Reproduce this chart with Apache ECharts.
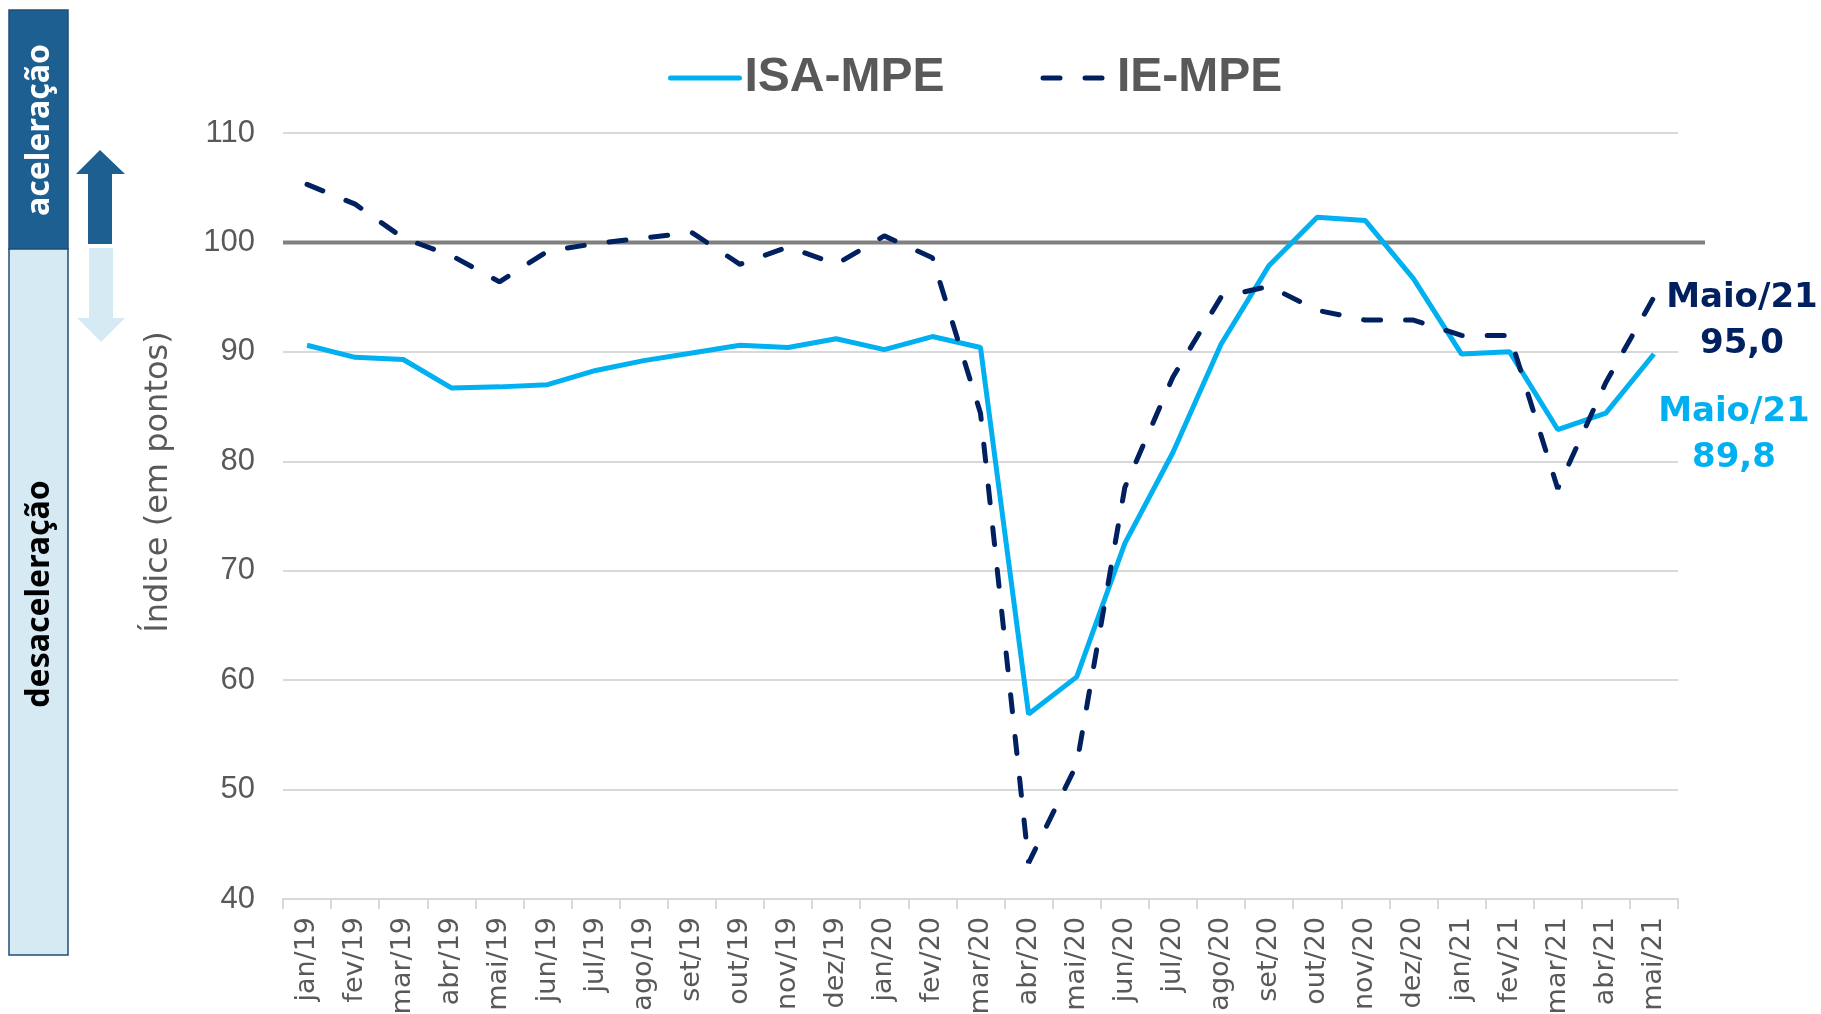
<!DOCTYPE html>
<html>

<head>
  <meta charset="utf-8" />
  <script src="https://cdn.jsdelivr.net/npm/echarts@6/dist/echarts.min.js"></script>
</head>

<body style="margin:0;background:#fff">
  <div id="main" style="width: 1821px;height:1014px;"></div>
  <script type="text/javascript">
    // dados
    var meses = ['jan/19', 'fev/19', 'mar/19', 'abr/19', 'mai/19', 'jun/19', 'jul/19', 'ago/19', 'set/19', 'out/19',
      'nov/19', 'dez/19', 'jan/20', 'fev/20', 'mar/20', 'abr/20', 'mai/20', 'jun/20', 'jul/20', 'ago/20',
      'set/20', 'out/20', 'nov/20', 'dez/20', 'jan/21', 'fev/21', 'mar/21', 'abr/21', 'mai/21']
    var isaMpe = [90.6, 89.5, 89.3, 86.7, 86.8, 87.0, 88.3, 89.2, 89.9, 90.6,
      90.4, 91.2, 90.2, 91.4, 90.4, 56.9, 60.3, 72.5, 80.8, 90.7,
      97.9, 102.3, 102.0, 96.7, 89.8, 90.0, 82.9, 84.4, 89.8]
    var ieMpe = [105.3, 103.5, 100.4, 98.8, 96.4, 99.2, 99.9, 100.4, 100.9, 98.0,
      99.6, 98.0, 100.6, 98.6, 84.4, 43.3, 52.3, 77.6, 87.7, 95.0,
      96.0, 93.8, 92.9, 92.9, 91.5, 91.5, 77.5, 87.2, 95.0]
    var yTicks = { min: 40, max: 110, step: 10 }
    var linhaBase = 100
    var rotuloFinal = 'Maio/21'

    var gridLeft = 283, gridRight = 143, gridTop = 133, gridBottom = 115
    var tracejado = [17, 25]

    var myChart = echarts.init(document.getElementById('main'));

    function fmt(v) {
      return v.toFixed(1).replace('.', ',')
    }

    function marcaFinal(valores, cor, offset) {
      var last = valores.length - 1
      return {
        symbol: 'circle',
        symbolSize: 0,
        itemStyle: { color: 'transparent' },
        data: [{ coord: [meses[last], valores[last]] }],
        label: {
          show: true,
          position: 'inside',
          offset: offset,
          align: 'center',
          verticalAlign: 'middle',
          formatter: function () { return rotuloFinal + '\n' + fmt(valores[last]) },
          color: cor,
          fontFamily: 'DejaVu Sans',
          fontWeight: 'bold',
          fontSize: 34,
          lineHeight: 46
        }
      }
    }

    var graphic = [
      { id: 'boxUp', type: 'rect', shape: { x: 9, y: 10, width: 59, height: 239 }, style: { fill: '#1d5f91', stroke: '#1f4e79', lineWidth: 1.5 } },
      { id: 'boxDown', type: 'rect', shape: { x: 9, y: 249, width: 59, height: 706 }, style: { fill: '#d5eaf3', stroke: '#1f4e79', lineWidth: 1.5 } },
      {
        id: 'txtUp', type: 'text', x: 40, y: 130, rotation: Math.PI / 2,
        style: { text: 'aceleração', fill: '#ffffff', font: 'bold 32px "Noto Sans"', align: 'center', verticalAlign: 'middle' }
      },
      {
        id: 'txtDown', type: 'text', x: 40, y: 594, rotation: Math.PI / 2,
        style: { text: 'desaceleração', fill: '#000000', font: 'bold 32px "Noto Sans"', align: 'center', verticalAlign: 'middle' }
      },
      {
        id: 'arrowUp', type: 'polygon',
        shape: { points: [[100, 150], [125, 174], [112, 174], [112, 244], [88, 244], [88, 174], [76, 174]] },
        style: { fill: '#1d5f91' }
      },
      {
        id: 'arrowDown', type: 'polygon',
        shape: { points: [[89, 248], [113, 248], [113, 318], [125, 318], [101, 342], [77, 318], [89, 318]] },
        style: { fill: '#d5eaf3' }
      }
    ]

    var option = {
      backgroundColor: '#ffffff',
      animation: false,
      legend: {
        data: [
          { name: 'ISA-MPE', itemStyle: { opacity: 0 }, lineStyle: { width: 5, cap: 'round' } },
          { name: 'IE-MPE', itemStyle: { opacity: 0 }, lineStyle: { width: 5, type: tracejado, cap: 'round' } }
        ],
        left: 663,
        top: 49,
        itemWidth: 69,
        itemHeight: 14,
        itemGap: 96,
        textStyle: {
          fontFamily: 'Liberation Sans',
          fontWeight: 'bold',
          fontSize: 48,
          color: '#595959'
        }
      },
      grid: {
        left: gridLeft, right: gridRight, top: gridTop, bottom: gridBottom,
        outerBoundsMode: 'none'
      },
      xAxis: {
        type: 'category',
        data: meses,
        axisLine: { lineStyle: { color: '#d9d9d9', width: 2 } },
        axisTick: { show: true, length: 10, lineStyle: { color: '#d9d9d9', width: 2 } },
        axisLabel: {
          interval: 0,
          rotate: 90,
          margin: 18,
          fontFamily: 'DejaVu Sans',
          fontSize: 27,
          color: '#595959'
        }
      },
      yAxis: {
        type: 'value',
        min: yTicks.min,
        max: yTicks.max,
        interval: yTicks.step,
        name: 'Índice (em pontos)',
        nameLocation: 'middle',
        nameGap: 108,
        nameTextStyle: {
          fontFamily: 'DejaVu Sans',
          fontSize: 32,
          color: '#595959',
          padding: [0, 0, 0, 68]
        },
        axisLine: { show: false },
        axisTick: { show: false },
        axisLabel: {
          margin: 28,
          fontFamily: 'Liberation Sans',
          fontSize: 31,
          color: '#595959'
        },
        splitLine: { lineStyle: { color: '#d9d9d9', width: 2 } }
      },
      graphic: graphic,
      series: [
        {
          name: 'ISA-MPE',
          type: 'line',
          data: isaMpe,
          symbol: 'none',
          color: '#00b0f0',
          lineStyle: { color: '#00b0f0', width: 5 },
          markPoint: marcaFinal(isaMpe, '#00b0f0', [80, 81])
        },
        {
          name: 'IE-MPE',
          type: 'line',
          data: ieMpe,
          symbol: 'none',
          color: '#002060',
          lineStyle: { color: '#002060', width: 5, type: tracejado, cap: 'round' },
          markPoint: marcaFinal(ieMpe, '#002060', [88, 24])
        }
      ]
    };

    myChart.setOption(option);

    // linha de referencia em 100, passa um pouco da borda direita do grid
    var y100 = myChart.convertToPixel({ yAxisIndex: 0 }, linhaBase)
    graphic.push({
      id: 'base100', type: 'line', z: 1,
      shape: { x1: gridLeft, y1: y100, x2: 1821 - gridRight + 27, y2: y100 },
      style: { stroke: '#808080', lineWidth: 4 }
    })
    myChart.setOption({ graphic: graphic });
  </script>
</body>

</html>
